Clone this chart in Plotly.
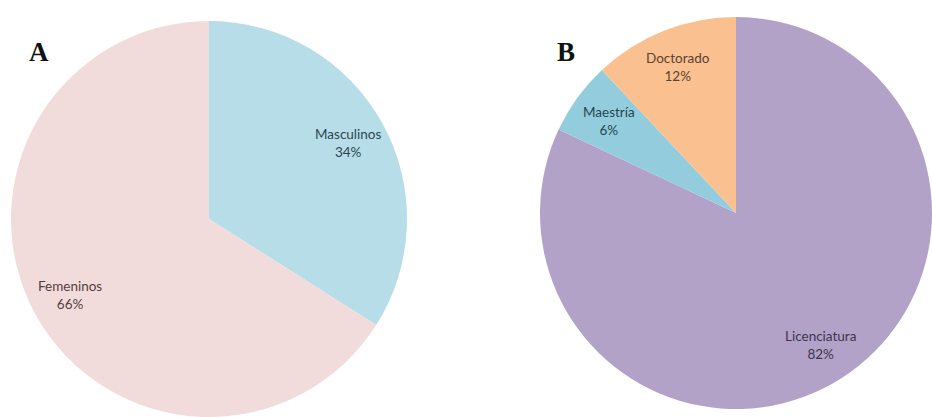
import math
import plotly.graph_objects as go

# Panel A: sex distribution
sex_labels = ["Masculinos", "Femeninos"]
sex_values = [34, 66]
sex_colors = ["#b7dee8", "#f2dcdb"]
sex_text_colors = ["#2c4650", "#553c3c"]

# Panel B: highest academic degree
degree_labels = ["Licenciatura", "Maestría", "Doctorado"]
degree_values = [82, 6, 12]
degree_colors = ["#b3a2c7", "#93cddd", "#fac090"]
degree_text_colors = ["#3c3450", "#23454f", "#5a4330"]

panel_letters = ["A", "B"]

W, H = 932, 417
LABEL_FONT = "Lato, Open Sans, sans-serif"
LABEL_RADIUS = 0.8  # fraction of pie radius where slice labels sit

# pie domains in pixels: (x0, x1, y0_from_bottom, y1_from_bottom)
dom_a = (11, 407, 0, 396)
dom_b = (540, 932, 8, 400)

fig = go.Figure()


def add_pie(labels, values, colors, text_colors, dom):
    x0, x1, y0, y1 = dom
    fig.add_trace(go.Pie(
        labels=labels,
        values=values,
        sort=False,
        direction="clockwise",
        rotation=0,
        marker=dict(colors=colors, line=dict(width=0)),
        textinfo="none",
        hoverinfo="label+percent",
        showlegend=False,
        domain=dict(x=[x0 / W, x1 / W], y=[y0 / H, y1 / H]),
    ))
    # slice labels placed along each slice's mid-angle (clockwise from 12 o'clock)
    cx, cy = (x0 + x1) / 2, (y0 + y1) / 2
    r = min(x1 - x0, y1 - y0) / 2
    total = sum(values)
    cum = 0
    for lab, val, col in zip(labels, values, text_colors):
        mid = 2 * math.pi * (cum + val / 2) / total
        cum += val
        px = cx + LABEL_RADIUS * r * math.sin(mid)
        py = cy + LABEL_RADIUS * r * math.cos(mid)
        fig.add_annotation(
            text="%s<br>%d%%" % (lab, round(100 * val / total)),
            x=px / W, y=py / H, xref="paper", yref="paper",
            xanchor="center", yanchor="middle", showarrow=False,
            font=dict(family=LABEL_FONT, size=13.5, color=col),
        )


add_pie(sex_labels, sex_values, sex_colors, sex_text_colors, dom_a)
add_pie(degree_labels, degree_values, degree_colors, degree_text_colors, dom_b)

for letter, lx in zip(panel_letters, [39, 566]):
    fig.add_annotation(
        text="<b>%s</b>" % letter, x=lx / W, y=1 - 52 / H,
        xref="paper", yref="paper", xanchor="center", yanchor="middle",
        showarrow=False, font=dict(family="Liberation Serif, serif", size=27, color="#111111"),
    )

fig.update_layout(
    width=W, height=H,
    margin=dict(l=0, r=0, t=0, b=0),
    paper_bgcolor="white",
    plot_bgcolor="white",
)

fig.write_html("out.html")
